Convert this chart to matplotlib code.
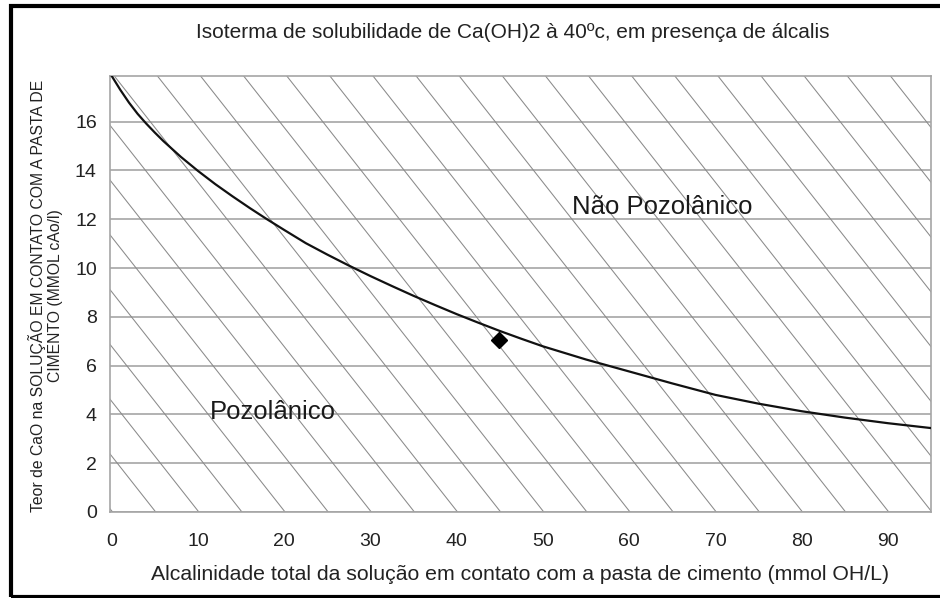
import numpy as np
import matplotlib
matplotlib.use("Agg")
import matplotlib.pyplot as plt
import matplotlib.patches as mpatches

plt.rcParams['font.family'] = ['Liberation Sans', 'DejaVu Sans']

# Isotherm curve
curve_x = [0, 1, 2, 3, 4, 5, 6, 8, 10, 12, 14, 16, 18, 20, 22.5, 25, 27.5, 30,
           32.5, 35, 37.5, 40, 42.5, 45, 47.5, 50, 55, 60, 65, 70, 75, 80, 85, 90, 95]
curve_y = [17.87, 17.3, 16.78, 16.32, 15.92, 15.55, 15.2, 14.56, 13.98, 13.44,
           12.94, 12.46, 12.0, 11.56, 11.02, 10.55, 10.1, 9.67, 9.26, 8.86, 8.48,
           8.11, 7.76, 7.42, 7.1, 6.79, 6.25, 5.76, 5.27, 4.8, 4.44, 4.13, 3.87,
           3.64, 3.44]

# Sample point
sample_x = [44.9]
sample_y = [7.05]

x_ticks = [0, 10, 20, 30, 40, 50, 60, 70, 80, 90]
y_ticks = [0, 2, 4, 6, 8, 10, 12, 14, 16]

fig = plt.figure(figsize=(9.4, 5.98), dpi=100)
ax = fig.add_axes([110 / 940, 86 / 598, 821 / 940, 436 / 598])

xmin, xmax = -0.2, 95.0
ymin, ymax = 0, 17.87
ax.set_xlim(xmin, xmax)
ax.set_ylim(ymin, ymax)

# diagonal hatching over the whole plot area
hatch_step = 5
hatch_run = 39.8
for top in np.arange(-45, 100, hatch_step) + 0.3:
    ax.plot([top, top + hatch_run], [ymax, ymin], color='#8a8a8a', lw=0.75, zorder=1)

# horizontal grid
ax.set_yticks(y_ticks)
ax.set_xticks(x_ticks)
ax.grid(axis='y', color='#a5a5a5', lw=1.2, zorder=0)
ax.set_axisbelow(True)
for s in ax.spines.values():
    s.set_color('#a5a5a5')
    s.set_linewidth(1.2)

ax.plot(curve_x, curve_y, color='#111111', lw=1.6, zorder=3)
ax.plot(sample_x, sample_y, marker='D', color='black', ms=8.5, ls='none', zorder=4)

ax.text(63.8, 12.5, 'Não Pozolânico', fontsize=18.5, ha='center', va='center', color='#1a1a1a')
ax.text(18.7, 4.1, 'Pozolânico', fontsize=18.5, ha='center', va='center', color='#1a1a1a')

ax.tick_params(axis='both', length=0, labelsize=14, colors='#222222')
ax.tick_params(axis='y', pad=9.5)
ax.tick_params(axis='x', pad=15)

fig.text(513 / 940, 1 - 33 / 598,
         'Isoterma de solubilidade de Ca(OH)2 à 40ºc, em presença de álcalis',
         fontsize=15, ha='center', va='center', color='#222222')
fig.text(520 / 940, 1 - 575 / 598,
         'Alcalinidade total da solução em contato com a pasta de cimento (mmol OH/L)',
         fontsize=15.3, ha='center', va='center', color='#222222')
fig.text(45.5 / 940, 1 - 296 / 598,
         'Teor de CaO na SOLUÇÃO EM CONTATO COM A PASTA DE\nCIMENTO (MMOL cAo/l)',
         fontsize=11.3, ha='center', va='center', rotation=90,
         multialignment='center', linespacing=1.15, color='#222222')

# black frame around the figure (right side runs off the picture)
frame = mpatches.Rectangle((11 / 940, 1.5 / 598), 1.2, 591 / 598, transform=fig.transFigure,
                           fill=False, edgecolor='black', lw=3, clip_on=False)
fig.add_artist(frame)

fig.savefig('out.png', dpi=100)
